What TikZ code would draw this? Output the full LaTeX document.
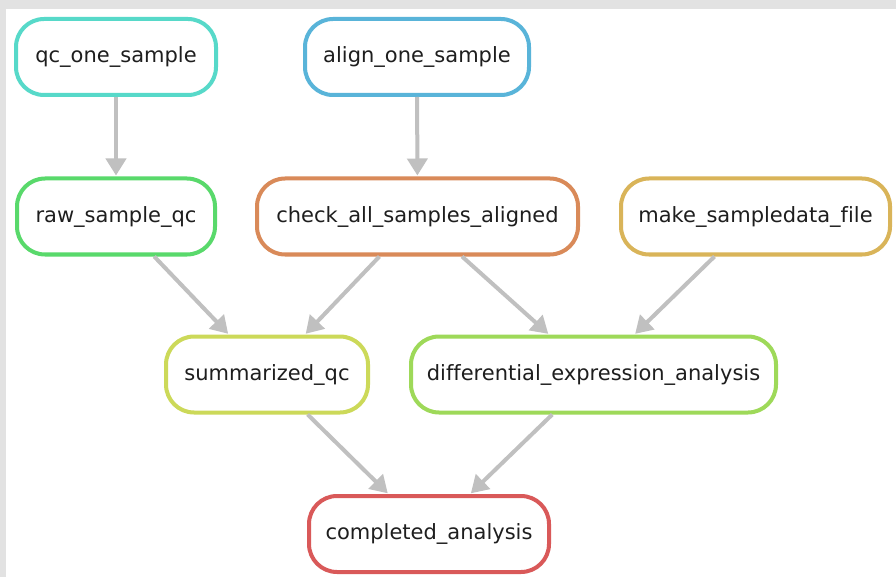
\documentclass[tikz,border=0pt]{standalone}
\usepackage{fontspec}
\setmainfont{DejaVu Sans}[Ligatures=NoCommon]
\usetikzlibrary{arrows.meta}
\definecolor{cteal}{HTML}{57D9C9}
\definecolor{cblue}{HTML}{59B4D9}
\definecolor{cgreen}{HTML}{59D96B}
\definecolor{corange}{HTML}{D98A59}
\definecolor{cgold}{HTML}{D9B459}
\definecolor{cyellow}{HTML}{CCD959}
\definecolor{clime}{HTML}{9ED959}
\definecolor{cred}{HTML}{D95959}
\definecolor{edgegray}{HTML}{C0C0C0}
\definecolor{bggray}{HTML}{E2E2E2}
\definecolor{txt}{HTML}{1E1E1E}
\tikzset{
  rulebox/.style={draw, line width=4pt, rounded corners=28pt, fill=white,
    minimum height=76pt, inner sep=0pt, text=txt,
    font=\fontsize{21}{25}\selectfont},
  edge/.style={draw=edgegray, line width=4pt,
    -{Triangle[length=17pt,width=20pt,fill=edgegray]}, shorten >=1pt}
}
\begin{document}
\begin{tikzpicture}[x=1pt,y=-1pt]
\useasboundingbox (0,0) rectangle (896,577);
\fill[bggray] (0,0) rectangle (896,577);
\fill[white] (6,9) rectangle (896,577);
\node[rulebox, draw=cteal, minimum width=200pt] (qc) at (116,57) {qc\_one\_sample};
\node[rulebox, draw=cblue, minimum width=224pt] (align) at (417,57) {align\_one\_sample};
\node[rulebox, draw=cgreen, minimum width=198pt] (raw) at (116,216.5) {raw\_sample\_qc};
\node[rulebox, draw=corange, minimum width=321pt] (check) at (417.5,216.5) {check\_all\_samples\_aligned};
\node[rulebox, draw=cgold, minimum width=269pt] (make) at (755.5,216.5) {make\_sampledata\_file};
\node[rulebox, draw=cyellow, minimum width=202pt] (summ) at (267,374.5) {summarized\_qc};
\node[rulebox, draw=clime, minimum width=365pt] (diff) at (593.5,374.5) {differential\_expression\_analysis};
\node[rulebox, draw=cred, minimum width=240pt] (done) at (429,534) {completed\_analysis};
\path[edge] (qc) -- (raw);
\path[edge] (align) -- (check);
\path[edge] (raw) -- (summ);
\path[edge] (check) -- (summ);
\path[edge] (check) -- (diff);
\path[edge] (make) -- (diff);
\path[edge] (summ) -- (done);
\path[edge] (diff) -- (done);
\end{tikzpicture}
\end{document}
